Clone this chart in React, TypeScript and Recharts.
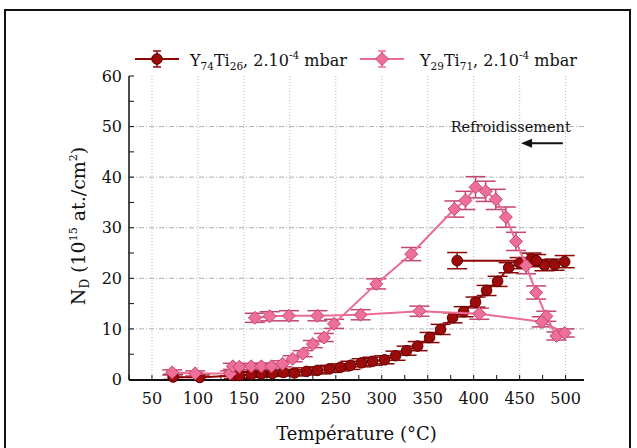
import React from 'react'
import {
  CartesianGrid,
  ComposedChart,
  ErrorBar,
  ReferenceDot,
  ReferenceLine,
  Scatter,
  XAxis,
  YAxis,
} from 'recharts'

const FONT = "'DejaVu Serif', serif"

// Y74Ti26 : montée en température puis refroidissement (2 derniers points)
const y74Temp = [73, 102, 139, 145, 158, 169, 181, 193, 205, 218, 230, 243, 255, 266, 278, 290, 303, 315, 327, 339, 352, 364, 377, 389, 402, 414, 426, 438, 450, 463, 477, 488, 499, 468, 382]
const y74Nd = [0.5, 0.4, 0.8, 0.8, 1.0, 1.1, 1.2, 1.4, 1.3, 1.6, 1.8, 2.1, 2.4, 2.8, 3.3, 3.6, 3.9, 4.7, 5.7, 6.6, 8.3, 9.9, 12.2, 13.4, 15.3, 17.6, 19.4, 22.1, 23.0, 23.8, 22.6, 22.7, 23.3, 23.5, 23.5]
const y74Err = [0.5, 0.5, 0.6, 0.6, 0.6, 0.6, 0.6, 0.6, 0.6, 0.7, 0.7, 0.7, 0.7, 0.8, 0.8, 0.8, 0.8, 0.9, 0.9, 0.9, 1.0, 1.0, 1.0, 1.0, 1.0, 1.0, 1.0, 1.0, 1.1, 1.2, 1.1, 1.1, 1.2, 1.2, 1.6]

// Y29Ti71 : montée puis refroidissement (à partir de 499 °C)
const y29Temp = [72, 97, 135, 138, 145, 158, 169, 180, 192, 203, 214, 225, 237, 248, 294, 332, 379, 391, 402, 413, 424, 435, 446, 457, 468, 479, 490, 499, 474, 406, 341, 277, 230, 199, 178, 162]
const y29Nd = [1.4, 1.2, 1.2, 2.6, 2.5, 2.6, 2.6, 2.6, 3.1, 4.1, 5.1, 7.0, 8.3, 11.0, 18.9, 24.8, 33.7, 35.4, 38.0, 37.2, 35.6, 32.1, 27.3, 22.5, 17.2, 12.5, 8.6, 9.2, 11.4, 13.0, 13.5, 12.8, 12.6, 12.6, 12.5, 12.2]
const y29Err = [0.5, 0.5, 0.5, 0.6, 0.6, 0.6, 0.6, 0.6, 0.6, 0.6, 0.6, 0.7, 0.8, 0.9, 1.0, 1.3, 1.6, 1.8, 2.1, 2.0, 2.0, 2.0, 1.8, 1.6, 1.3, 1.0, 0.8, 0.8, 1.0, 1.1, 1.0, 1.0, 1.0, 1.0, 0.9, 0.9]

const xTicks = [25, 50, 75, 100, 125, 150, 175, 200, 225, 250, 275, 300, 325, 350, 375, 400, 425, 450, 475, 500]
const xGrid = [50, 100, 150, 200, 250, 300, 350, 400, 450, 500]
const yTicks = [0, 5, 10, 15, 20, 25, 30, 35, 40, 45, 50, 55, 60]
const yGrid = [10, 20, 30, 40, 50]

const y74 = y74Temp.map((t, i) => ({ t, nd: y74Nd[i], err: y74Err[i] }))
const y29 = y29Temp.map((t, i) => ({ t, nd: y29Nd[i], err: y29Err[i] }))

const RED = '#8e0505'
const RED_FILL = '#9c0a0a'
const RED_EDGE = '#5c0000'
const PINK = '#eb6c93'
const PINK_FILL = '#ee7099'
const PINK_EDGE = '#c4466f'

const Dot = (p: any) => <circle cx={p.cx} cy={p.cy} r={5.3} fill={RED_FILL} stroke={RED_EDGE} strokeWidth={1} />

const Diamond = (p: any) => {
  const r = 6.5
  return (
    <polygon
      points={`${p.cx},${p.cy - r} ${p.cx + r},${p.cy} ${p.cx},${p.cy + r} ${p.cx - r},${p.cy}`}
      fill={PINK_FILL}
      stroke={PINK_EDGE}
      strokeWidth={1}
    />
  )
}

const tickStyle = { fontSize: 16, fill: '#111', fontFamily: FONT }
const every = (step: number) => (v: number) => (v % step === 0 ? String(v) : '')
const blank = () => ''

function YTitle(props: any) {
  const vb = props.viewBox || { x: 0, y: 76, width: 129, height: 304 }
  const cx = vb.x + 78
  const cy = vb.y + vb.height / 2 - 2
  return (
    <text transform={`translate(${cx},${cy}) rotate(-90)`} textAnchor="middle" fontFamily={FONT} fontSize={19} fill="#111" dy={7}>
      N<tspan fontSize={12} dy={4}>D</tspan>
      <tspan dy={-4}> (10</tspan>
      <tspan fontSize={11} dy={-8}>15</tspan>
      <tspan dy={8}> at./cm</tspan>
      <tspan fontSize={11} dy={-8}>2</tspan>
      <tspan dy={8}>)</tspan>
    </text>
  )
}

function LegendMark({ x, kind }: { x: number; kind: 'dot' | 'diamond' }) {
  const c = kind === 'dot' ? RED : PINK
  return (
    <g>
      <line x1={x - 22} x2={x + 22} y1={59} y2={59} stroke={c} strokeWidth={2} />
      <line x1={x} x2={x} y1={51} y2={67} stroke={c} strokeWidth={1.5} />
      <line x1={x - 4} x2={x + 4} y1={51} y2={51} stroke={c} strokeWidth={1.5} />
      <line x1={x - 4} x2={x + 4} y1={67} y2={67} stroke={c} strokeWidth={1.5} />
      {kind === 'dot' ? <Dot cx={x} cy={59} /> : <Diamond cx={x} cy={59} />}
    </g>
  )
}

function Legend() {
  const t = { fontFamily: FONT, fontSize: 16, fill: '#111' }
  return (
    <svg width={637} height={448} style={{ position: 'absolute', left: 0, top: 0, pointerEvents: 'none' }}>
      <LegendMark x={157} kind="dot" />
      <text x={190} y={66} {...t}>
        Y<tspan fontSize={10.5} dy={4}>74</tspan>
        <tspan dy={-4}>Ti</tspan>
        <tspan fontSize={10.5} dy={4}>26</tspan>
        <tspan dy={-4}>, 2.10</tspan>
        <tspan fontSize={10.5} dy={-7}>-4</tspan>
        <tspan dy={7}> mbar</tspan>
      </text>
      <LegendMark x={382} kind="diamond" />
      <text x={420} y={66} {...t}>
        Y<tspan fontSize={10.5} dy={4}>29</tspan>
        <tspan dy={-4}>Ti</tspan>
        <tspan fontSize={10.5} dy={4}>71</tspan>
        <tspan dy={-4}>, 2.10</tspan>
        <tspan fontSize={10.5} dy={-7}>-4</tspan>
        <tspan dy={7}> mbar</tspan>
      </text>
    </svg>
  )
}

export default function App() {
  return (
    <div style={{ position: 'absolute', left: 0, top: 0, width: 637, height: 448, overflow: 'hidden', background: '#fff' }}>
      <div style={{ position: 'absolute', left: 4, top: 9, width: 627, height: 470, border: '2px solid #111', boxSizing: 'border-box' }} />
      <ComposedChart width={637} height={448} margin={{ top: 76, right: 53, bottom: 0, left: 0 }} style={{ position: 'absolute', left: 0, top: 0 }}>
        <CartesianGrid xAxisId="b" yAxisId="l" horizontal={false} verticalValues={xGrid} stroke="#b8b8b8" strokeDasharray="1 2" />
        <CartesianGrid xAxisId="b" yAxisId="l" vertical={false} horizontalValues={yGrid} stroke="#b0b0b0" strokeDasharray="5 2 1 2" />
        <XAxis
          xAxisId="b"
          dataKey="t"
          type="number"
          domain={[25, 520]}
          ticks={xTicks}
          tickFormatter={every(50)}
          height={68}
          tickSize={-5}
          tickMargin={18}
          tick={tickStyle}
          axisLine={{ stroke: '#111', strokeWidth: 2 }}
          tickLine={{ stroke: '#111', strokeWidth: 1 }}
          interval={0}
          label={{ value: 'Température (°C)', position: 'insideBottom', offset: 8, fontSize: 18, fill: '#111', fontFamily: FONT }}
        />
        <XAxis
          xAxisId="t"
          orientation="top"
          dataKey="t"
          type="number"
          domain={[25, 520]}
          ticks={xTicks}
          tickFormatter={blank}
          height={0}
          tickSize={-5}
          axisLine={{ stroke: '#111', strokeWidth: 1.5 }}
          tickLine={{ stroke: '#111', strokeWidth: 1 }}
          interval={0}
        />
        <YAxis
          yAxisId="l"
          type="number"
          domain={[0, 60]}
          ticks={yTicks}
          tickFormatter={every(10)}
          width={129}
          tickSize={-5}
          tickMargin={12}
          tick={tickStyle}
          axisLine={{ stroke: '#111', strokeWidth: 1.5 }}
          tickLine={{ stroke: '#111', strokeWidth: 1 }}
          interval={0}
          label={<YTitle />}
        />
        <YAxis
          yAxisId="r"
          orientation="right"
          type="number"
          domain={[0, 60]}
          ticks={yTicks}
          tickFormatter={blank}
          width={0}
          tickSize={-5}
          axisLine={{ stroke: '#111', strokeWidth: 1.5 }}
          tickLine={{ stroke: '#111', strokeWidth: 1 }}
          interval={0}
        />
        <Scatter
          xAxisId="b"
          yAxisId="l"
          data={y74}
          dataKey="nd"
          shape={Dot}
          line={{ stroke: RED, strokeWidth: 2 }}
          isAnimationActive={false}
        >
          <ErrorBar dataKey="err" direction="y" width={10} stroke={RED} strokeWidth={1.5} />
        </Scatter>
        <Scatter
          xAxisId="b"
          yAxisId="l"
          data={y29}
          dataKey="nd"
          shape={Diamond}
          line={{ stroke: PINK, strokeWidth: 2 }}
          isAnimationActive={false}
        >
          <ErrorBar dataKey="err" direction="y" width={10} stroke={PINK_EDGE} strokeWidth={1.5} />
        </Scatter>
        <ReferenceLine
          xAxisId="b"
          yAxisId="l"
          segment={[{ x: 497, y: 46.7 }, { x: 458, y: 46.7 }]}
          stroke="#111"
          strokeWidth={2}
        />
        <ReferenceDot
          xAxisId="b"
          yAxisId="l"
          x={451.5}
          y={46.7}
          shape={(p: any) => (
            <polygon points={`${p.cx},${p.cy} ${p.cx + 11},${p.cy - 4.5} ${p.cx + 11},${p.cy + 4.5}`} fill="#111" />
          )}
        />
        <ReferenceDot
          xAxisId="b"
          yAxisId="l"
          x={375}
          y={49}
          shape={(p: any) => (
            <text x={p.cx} y={p.cy} fontFamily={FONT} fontSize={14.5} fill="#111">
              Refroidissement
            </text>
          )}
        />
      </ComposedChart>
      <Legend />
    </div>
  )
}
